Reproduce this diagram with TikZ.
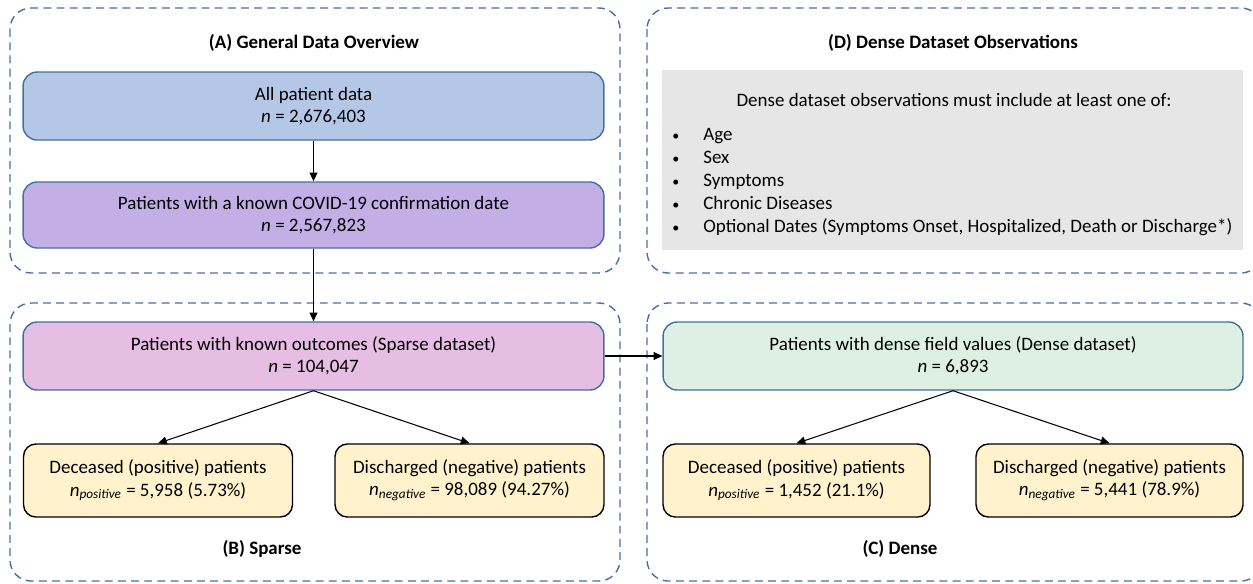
\documentclass[tikz,border=0pt]{standalone}
\usepackage{fontspec}
\setmainfont{Carlito}
\usetikzlibrary{positioning,arrows.meta}

\definecolor{groupblue}{HTML}{4A6FA5}
\definecolor{boxblue}{HTML}{41719C}
\definecolor{allblue}{HTML}{B4C7E7}
\definecolor{covidpurple}{HTML}{C3AEE5}
\definecolor{sparsepink}{HTML}{E6BDE3}
\definecolor{densegreen}{HTML}{DEF0E4}
\definecolor{outyellow}{HTML}{FFF2CC}
\definecolor{obsgray}{HTML}{E6E6E6}

\newcommand{\obsbullet}{{\fontsize{8}{8}\selectfont\textbullet}}

\begin{document}
\begin{tikzpicture}[x=0.02cm, y=-0.02cm,
    font=\fontsize{10.8}{12.6}\selectfont,
    group/.style={draw=groupblue, dash pattern=on 4.5pt off 3pt, line width=0.8pt, rounded corners=12pt},
    box/.style={draw=boxblue, line width=0.8pt, rounded corners=8pt, align=center,
        minimum width=11.62cm, minimum height=1.36cm},
    outcome/.style={draw=black, fill=outyellow, line width=0.8pt, rounded corners=7pt, align=center,
        minimum width=5.38cm, minimum height=1.46cm},
    title/.style={font=\fontsize{10.8}{12.6}\selectfont\bfseries},
    link/.style={-{Triangle[length=5pt,width=4.5pt]}, line width=0.6pt}]

    \clip (0,0) rectangle (1253,583);

    % dashed groups
    \draw[group] (10,8) rectangle (620,273);
    \draw[group] (647,8) rectangle (1262,273);
    \draw[group] (10,303) rectangle (620,581);
    \draw[group] (647,303) rectangle (1262,581);

    % group titles
    \node[title] (titleA) at (314,43) {(A) General Data Overview};
    \node[title] (titleD) at (953,43) {(D) Dense Dataset Observations};
    \node[title] (titleB) at (262,549) {(B) Sparse};
    \node[title] (titleC) at (900,549) {(C) Dense};

    % (A) overview
    \node[box, fill=allblue] (all) at (313.5,106) {All patient data\\\textit{n} = 2,676,403};
    \node[box, fill=covidpurple, minimum height=1.32cm] (covid) at (313.5,215)
        {Patients with a known COVID-19 confirmation date\\\textit{n} = 2,567,823};

    % (B) sparse
    \node[box, fill=sparsepink] (sparse) at (313.5,356)
        {Patients with known outcomes (Sparse dataset)\\\textit{n} = 104,047};
    \node[outcome] (decsparse) at (158,480.5)
        {Deceased (positive) patients\\\textit{n}\textsubscript{\textit{positive}} = 5,958 (5.73\%)};
    \node[outcome] (dissparse) at (469.5,480.5)
        {Discharged (negative) patients\\\textit{n}\textsubscript{\textit{negative}} = 98,089 (94.27\%)};

    % (C) dense
    \node[box, fill=densegreen, minimum width=11.6cm] (dense) at (953,356)
        {Patients with dense field values (Dense dataset)\\\textit{n} = 6,893};
    \node[outcome, minimum width=5.34cm] (decdense) at (796.5,480.5)
        {Deceased (positive) patients\\\textit{n}\textsubscript{\textit{positive}} = 1,452 (21.1\%)};
    \node[outcome, minimum width=5.34cm] (disdense) at (1109.5,480.5)
        {Discharged (negative) patients\\\textit{n}\textsubscript{\textit{negative}} = 5,441 (78.9\%)};

    % (D) observations
    \node[fill=obsgray, minimum width=11.62cm, minimum height=3.6cm] (obs) at (952.5,160) {};
    \node (obshead) at (954,100) {Dense dataset observations must include at least one of:};
    \node[anchor=north west, inner sep=0pt, font=\fontsize{10.8}{13.1}\selectfont] (obslist) at (672,124)
        {\begin{tabular}{@{}p{0.62cm}@{}l@{}}
            \obsbullet & Age\\
            \obsbullet & Sex\\
            \obsbullet & Symptoms\\
            \obsbullet & Chronic Diseases\\
            \obsbullet & Optional Dates (Symptoms Onset, Hospitalized, Death or Discharge*)
        \end{tabular}};

    % connectors
    \draw[link] (all) -- (covid);
    \draw[link] (covid) -- (sparse);
    \draw[link] (sparse) -- (dense);
    \draw[link] (sparse.south) -- (decsparse.north);
    \draw[link] (sparse.south) -- (dissparse.north);
    \draw[link] (dense.south) -- (decdense.north);
    \draw[link] (dense.south) -- (disdense.north);
\end{tikzpicture}
\end{document}
